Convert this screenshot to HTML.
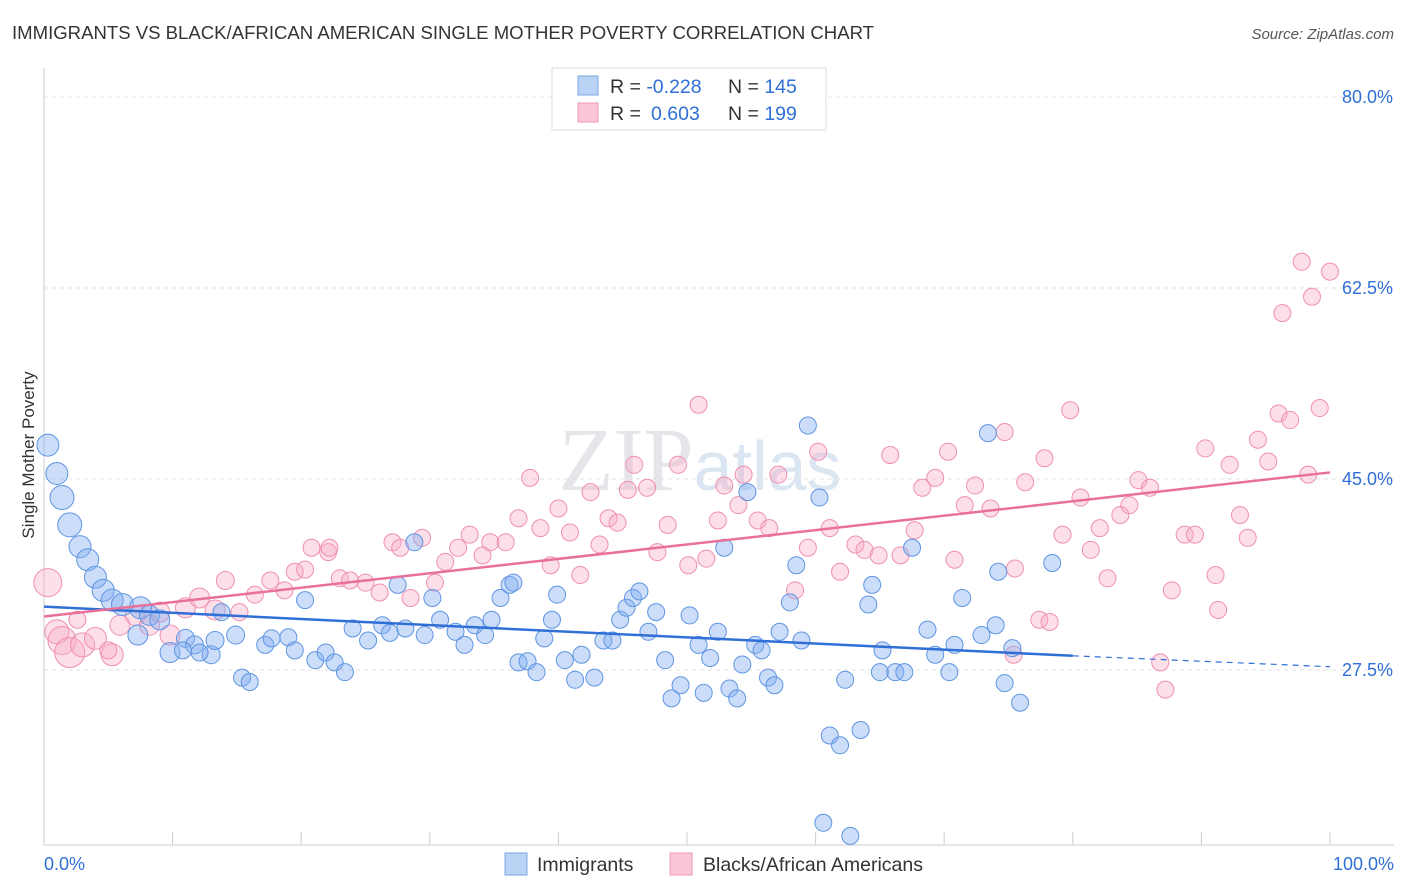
<!DOCTYPE html>
<html><head><meta charset="utf-8">
<style>
body{margin:0;background:#fff;font-family:"Liberation Sans",sans-serif;}
#wrap{position:relative;width:1406px;height:892px;overflow:hidden;}
svg{position:absolute;left:0;top:0;}
</style></head>
<body>
<div id="wrap">
<svg id="chart" width="1406" height="892">
<text x="12" y="39" font-size="18" fill="#333" textLength="862" lengthAdjust="spacingAndGlyphs">IMMIGRANTS VS BLACK/AFRICAN AMERICAN SINGLE MOTHER POVERTY CORRELATION CHART</text>
<text x="1394" y="39" font-size="15" fill="#555" font-style="italic" text-anchor="end">Source: ZipAtlas.com</text>
<text x="34" y="455" font-size="17" fill="#333" transform="rotate(-90 34 455)" text-anchor="middle">Single Mother Poverty</text>
<text x="700" y="490" font-size="90" fill="#e6e6ea" text-anchor="middle" font-family="Liberation Serif, serif">ZIP<tspan fill="#dbe6f3" font-family="Liberation Sans, sans-serif" font-size="70">atlas</tspan></text>
<g id="grid"></g><g id="marks"></g><g id="lines"></g>
<g>
<rect x="552" y="68" width="274" height="62" fill="#fff" stroke="#ddd"/>
<rect x="578" y="76" width="20" height="19" fill="#b9d3f5" stroke="#7fa8e6"/>
<rect x="578" y="103" width="20" height="19" fill="#f9c7d6" stroke="#ef9ab5"/>
<text x="610" y="93" font-size="19.5" fill="#333">R = <tspan fill="#2f6fd6">-0.228</tspan><tspan x="728">N = </tspan><tspan fill="#2f6fd6">145</tspan></text>
<text x="610" y="120" font-size="19.5" fill="#333">R = <tspan fill="#2f6fd6" x="651">0.603</tspan><tspan x="728">N = </tspan><tspan fill="#2f6fd6">199</tspan></text>
</g>
<g>
<rect x="505" y="853" width="22" height="22" fill="#b9d3f5" stroke="#7fa8e6"/>
<text x="537" y="871" font-size="19.5" fill="#333">Immigrants</text>
<rect x="670" y="853" width="22" height="22" fill="#f9c7d6" stroke="#ef9ab5"/>
<text x="703" y="871" font-size="19.5" fill="#333">Blacks/African Americans</text>
</g>
<text x="44" y="870" font-size="18" fill="#2f6fd6">0.0%</text>
<text x="1394" y="870" font-size="18" fill="#2f6fd6" text-anchor="end">100.0%</text>
</svg>
</div>
<script>
const yTicks=[80,62.5,45,27.5];
const blueX=[0.3,1.0,1.4,2.0,2.8,3.4,4.0,4.6,5.3,6.1,7.5,8.2,9.0,7.3,9.8,11.0,11.7,13.0,13.3,14.9,13.8,15.4,16.0,17.2,17.7,19.0,19.5,20.3,21.1,21.9,22.6,23.4,24.0,25.2,26.3,26.9,27.5,28.1,28.8,29.6,30.2,30.8,32.0,32.7,33.5,34.3,34.8,35.5,36.2,36.9,37.6,38.3,38.9,39.5,39.9,40.5,41.3,41.8,42.8,43.5,44.2,44.8,45.3,45.8,46.3,47.0,47.6,48.3,48.8,49.5,50.2,50.9,51.3,51.8,52.4,52.9,53.3,53.9,54.3,54.7,55.3,55.8,56.3,56.8,57.2,58.0,58.5,58.9,59.4,60.3,61.1,61.9,62.3,63.5,64.1,64.4,65.2,65.0,66.2,66.9,67.5,68.7,69.3,70.4,70.8,71.4,72.9,73.4,74.0,74.2,74.7,75.3,75.9,78.4,60.6,62.7,36.5,10.8,12.1];
const blueY=[48.1,45.5,43.3,40.8,38.8,37.6,36.0,34.8,33.9,33.5,33.2,32.5,32.1,30.7,29.1,30.4,29.8,28.9,30.2,30.7,32.8,26.8,26.4,29.8,30.4,30.5,29.3,33.9,28.4,29.1,28.2,27.3,31.3,30.2,31.6,30.9,35.3,31.3,39.2,30.7,34.1,32.1,31.0,29.8,31.6,30.7,32.1,34.1,35.3,28.2,28.3,27.3,30.4,32.1,34.4,28.4,26.6,28.9,26.8,30.2,30.2,32.1,33.2,34.1,34.7,31.0,32.8,28.4,24.9,26.1,32.5,29.8,25.4,28.6,31.0,38.7,25.8,24.9,28.0,43.8,29.8,29.3,26.8,26.1,31.0,33.7,37.1,30.2,49.9,43.3,21.5,20.6,26.6,22.0,33.5,35.3,29.3,27.3,27.3,27.3,38.7,31.2,28.9,27.3,29.8,34.1,30.7,49.2,31.6,36.5,26.3,29.5,24.5,37.3,13.5,12.3,35.5,29.3,29.1];
const blueR=[11,11,12,12,11,11,11,11,11,11,11,10,10,10,10,9,9,9,9,9];
const pinkX=[0.3,1.0,1.4,2.0,3.0,4.0,5.3,5.9,7.1,8.2,9.0,9.8,11.0,12.1,13.3,14.1,15.2,16.4,17.6,18.7,19.5,20.3,20.8,22.1,22.2,23.0,23.8,25.0,26.1,27.1,27.7,28.5,29.4,30.4,31.2,32.2,33.1,34.1,34.7,35.9,36.9,37.8,38.6,39.4,40.0,40.9,41.7,42.5,43.2,43.9,44.6,45.4,45.9,46.9,47.7,48.5,49.3,50.1,50.9,51.5,52.4,52.9,54.0,54.4,55.5,56.4,57.1,58.4,59.4,60.2,61.1,61.9,63.1,63.8,64.9,65.8,66.6,67.7,68.3,69.3,70.3,70.8,71.6,72.4,73.6,74.7,75.5,76.3,77.8,77.4,78.2,79.2,79.8,80.6,81.4,82.1,82.7,83.7,84.4,85.1,86.0,86.8,87.2,87.7,88.7,89.5,90.3,91.1,91.3,92.2,93.0,93.6,94.4,95.2,96.0,96.9,96.3,97.8,98.6,99.2,100.0,98.3,75.4,2.6,5.0];
const pinkY=[35.5,31.0,30.2,29.1,29.8,30.4,28.9,31.6,32.5,31.6,32.8,30.7,33.2,34.1,33.0,35.7,32.8,34.4,35.7,34.8,36.5,36.7,38.7,38.3,38.7,35.9,35.7,35.5,34.6,39.2,38.7,34.1,39.6,35.5,37.4,38.7,39.9,38.0,39.2,39.2,41.4,45.1,40.5,37.1,42.3,40.1,36.2,43.8,39.0,41.4,41.0,44.0,46.3,44.2,38.3,40.8,46.3,37.1,51.8,37.7,41.2,44.4,42.6,45.4,41.2,40.5,45.4,34.8,38.7,47.5,40.5,36.5,39.0,38.5,38.0,47.2,38.0,40.3,44.2,45.1,47.5,37.6,42.6,44.4,42.3,49.3,36.8,44.7,46.9,32.1,31.9,39.9,51.3,43.3,38.5,40.5,35.9,41.7,42.6,44.9,44.2,28.2,25.7,34.8,39.9,39.9,47.8,36.2,33.0,46.3,41.7,39.6,48.6,46.6,51.0,50.4,60.2,64.9,61.7,51.5,64.0,45.4,28.9,32.1,29.3];
const pinkR=[14,12,14,15,12,11,11,10,10,10,10,10,10,10,10,9];
const blueLine=[[0,33.3],[80,28.8],[100,27.8]];
const pinkLine=[[0,32.4],[100,45.6]];
const X=v=>44+v*12.86, Y=v=>97+(80-v)*10.914;
const NS="http://www.w3.org/2000/svg";
const grid=document.getElementById('grid'),marks=document.getElementById('marks'),lines=document.getElementById('lines');
function mk(tag,at,p){const e=document.createElementNS(NS,tag);for(const k in at)e.setAttribute(k,at[k]);p.appendChild(e);return e;}
let ax=mk('line',{x1:44,y1:68,x2:44,y2:845,stroke:'#ccc'},grid);


let bx=mk('line',{x1:44,y1:845,x2:1394,y2:845,stroke:'#ccc'},grid);


for(let i=0;i<=10;i++){const t=mk('line',{x1:X(i*10),x2:X(i*10),y1:832,y2:845,stroke:'#ccc'},grid);

}
yTicks.forEach(v=>{const g=mk('line',{x1:44,x2:1394,y1:Y(v),y2:Y(v),stroke:'#e2e2e2','stroke-dasharray':'4 4'},grid);


const t=mk('text',{x:1393,y:Y(v)+6,'font-size':18,fill:'#2f6fd6','text-anchor':'end'},grid);t.textContent=v.toFixed(1)+'%';

});
pinkX.forEach((v,i)=>{const c=mk('circle',{cx:X(v),cy:Y(pinkY[i]),r:pinkR[i]||8.5,fill:'rgba(246,170,196,0.38)',stroke:'#f08fb1','stroke-width':1},marks);

});
blueX.forEach((v,i)=>{const c=mk('circle',{cx:X(v),cy:Y(blueY[i]),r:blueR[i]||8.5,fill:'rgba(130,175,240,0.42)',stroke:'#5f95e3','stroke-width':1},marks);

});
let l1=mk('line',{x1:X(blueLine[0][0]),y1:Y(blueLine[0][1]),x2:X(blueLine[1][0]),y2:Y(blueLine[1][1]),stroke:'#2f6fd6','stroke-width':2.5},lines);


let l2=mk('line',{x1:X(blueLine[1][0]),y1:Y(blueLine[1][1]),x2:X(blueLine[2][0]),y2:Y(blueLine[2][1]),stroke:'#2f6fd6','stroke-width':1.2,'stroke-dasharray':'6 5'},lines);


let l3=mk('line',{x1:X(pinkLine[0][0]),y1:Y(pinkLine[0][1]),x2:X(pinkLine[1][0]),y2:Y(pinkLine[1][1]),stroke:'#e8709a','stroke-width':2.5},lines);


</script>
</body></html>
